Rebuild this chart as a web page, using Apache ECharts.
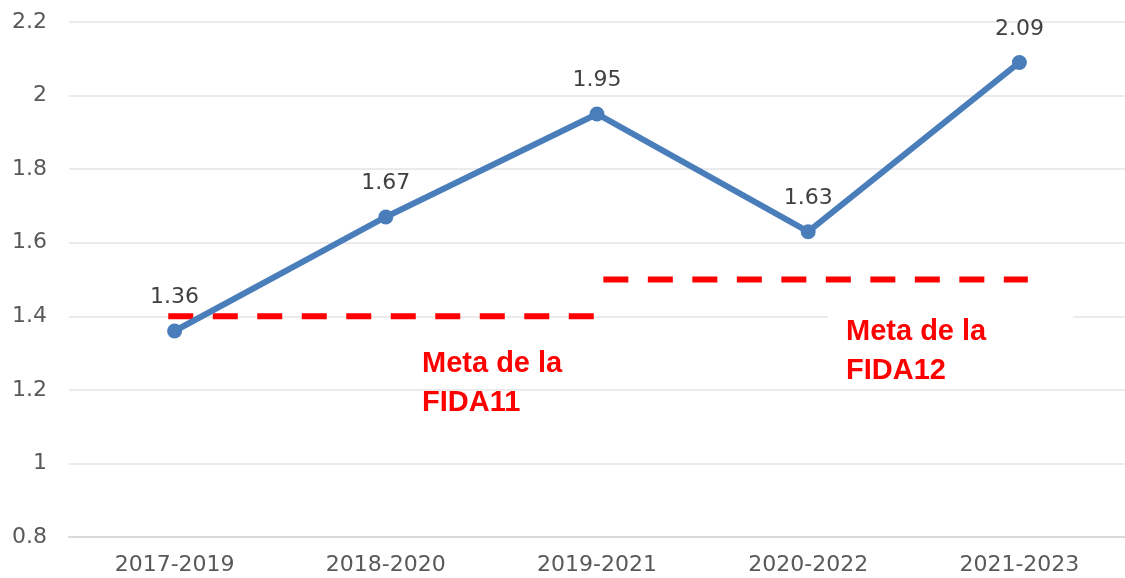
<!DOCTYPE html>
<html>
<head>
<meta charset="utf-8">
<script src="https://cdn.jsdelivr.net/npm/echarts@6/dist/echarts.min.js"></script>
<style>
html,body{margin:0;padding:0;background:#fff;}
#chart{width:1125px;height:578px;}
</style>
</head>
<body>
<div id="chart"></div>
<script>
const categories = ['2017-2019', '2018-2020', '2019-2021', '2020-2022', '2021-2023'];
const values = [1.36, 1.67, 1.95, 1.63, 2.09];
// target segments: [startIndex, endIndex, value]
const fida11 = [[-0.03, 1.4], [1.99, 1.4]];
const fida12 = [[2.03, 1.5], [4.04, 1.5]];
const fida11Label = 'Meta de la\nFIDA11';
const fida12Label = 'Meta de la\nFIDA12';
const yTicks = { min: 0.8, max: 2.2, interval: 0.2 };

const chart = echarts.init(document.getElementById('chart'), null, { renderer: 'canvas' });
const FONT = 'DejaVu Sans';
const dashStyle = { color: '#FF0000', width: 6, type: [25, 19.5], cap: 'butt' };

chart.setOption({
  animation: false,
  grid: { left: 69, top: 22, width: 1062, bottom: 41, containLabel: false },
  xAxis: [{
    type: 'category',
    data: categories,
    boundaryGap: true,
    axisLine: { lineStyle: { color: '#D9D9D9', width: 2 } },
    axisTick: { show: false },
    axisLabel: { color: '#595959', fontSize: 22, fontFamily: FONT, margin: 17 }
  }, {
    type: 'value',
    min: -0.5, max: 4.5,
    show: false
  }],
  yAxis: {
    type: 'value',
    min: yTicks.min, max: yTicks.max, interval: yTicks.interval,
    axisLine: { show: false },
    axisTick: { show: false },
    splitLine: { lineStyle: { color: '#EBEBEB', width: 2 } },
    axisLabel: {
      color: '#595959', fontSize: 22, fontFamily: FONT, margin: 22,
      formatter: v => String(Math.round(v * 10) / 10)
    }
  },
  series: [{
    type: 'line',
    xAxisIndex: 1,
    data: fida11,
    symbol: 'none',
    lineStyle: dashStyle,
    z: 2
  }, {
    type: 'line',
    xAxisIndex: 1,
    data: fida12,
    symbol: 'none',
    lineStyle: dashStyle,
    z: 2
  }, {
    type: 'line',
    xAxisIndex: 0,
    data: values,
    symbol: 'circle',
    symbolSize: 15,
    itemStyle: { color: '#4A7EBB' },
    lineStyle: { color: '#4A7EBB', width: 6 },
    label: {
      show: true, position: 'top', distance: 15,
      color: '#404040', fontSize: 22, fontFamily: FONT,
      formatter: p => p.value.toFixed(2)
    },
    z: 3
  }],
  graphic: [{
    type: 'rect',
    shape: { x: 828, y: 300, width: 245, height: 84 },
    style: { fill: '#FFFFFF' },
    z: 1
  }, {
    type: 'text',
    x: 422, y: 344,
    style: {
      text: fida11Label, fill: '#FF0000',
      font: 'bold 29px "Liberation Sans"', lineHeight: 39
    },
    z: 5
  }, {
    type: 'text',
    x: 846, y: 312,
    style: {
      text: fida12Label, fill: '#FF0000',
      font: 'bold 29px "Liberation Sans"', lineHeight: 39
    },
    z: 5
  }]
});
</script>
</body>
</html>
